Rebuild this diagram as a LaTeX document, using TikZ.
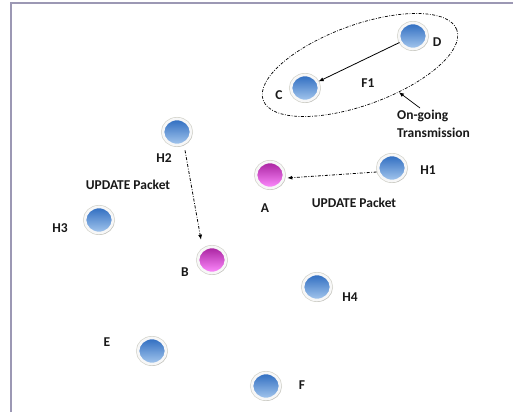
\documentclass[tikz,border=0pt]{standalone}
\usepackage{fontspec}
\setmainfont{Carlito}
\usetikzlibrary{shapes.geometric,arrows.meta,shadows}

\definecolor{frameline}{HTML}{9C98B4}
\definecolor{bluetop}{HTML}{2E6CC0}
\definecolor{bluebot}{HTML}{A6C8EE}
\definecolor{magtop}{HTML}{A8229F}
\definecolor{magbot}{HTML}{FF8CFF}
\definecolor{rimgray}{HTML}{D4D4CC}

\tikzset{
  station/.style={ellipse, inner sep=0pt, minimum width=28pt, minimum height=26pt,
    draw=white!97!black, line width=2.6pt,
    preaction={draw=rimgray, line width=4pt},
    drop shadow={opacity=0.22, shadow xshift=1.3pt, shadow yshift=-1.6pt}},
  host/.style={station, top color=bluetop, bottom color=bluebot},
  relay/.style={station, top color=magtop, bottom color=magbot},
  lbl/.style={font=\bfseries\fontsize{13.5}{15}\selectfont, text=black!90, inner sep=1pt},
  flow/.style={-{Latex[length=5pt,width=4pt]}, line width=0.8pt},
  update/.style={flow, dash pattern=on 3pt off 1.6pt on 0.8pt off 1.6pt}
}

\begin{document}
\begin{tikzpicture}[x=1pt,y=-1pt]
  \useasboundingbox (0,0) rectangle (513,412);
  \fill[white] (0,0) rectangle (513,412);
  % window frame edges
  \draw[frameline, line width=1.8pt] (11,412) -- (11,3) -- (513,3);

  % ongoing flow region
  \node[draw, ellipse, rotate=20, minimum width=206pt, minimum height=80pt,
        line width=0.7pt, dash pattern=on 3pt off 1.5pt on 0.8pt off 1.5pt] (ring) at (360,65) {};

  % stations
  \node[host]  (D)  at (413,36)  {};
  \node[host]  (C)  at (305,88)  {};
  \node[host]  (H2) at (177,132) {};
  \node[host]  (H1) at (392,168) {};
  \node[relay] (A)  at (270,175) {};
  \node[host]  (H3) at (99,220)  {};
  \node[relay] (B)  at (212,260) {};
  \node[host]  (H4) at (317,287) {};
  \node[host]  (E)  at (152,351) {};
  \node[host]  (F)  at (266,386) {};

  % labels
  \node[lbl] (lD)  at (437,42)  {D};
  \node[lbl] (lC)  at (279,95)  {C};
  \node[lbl] (lF1) at (368,83)  {F1};
  \node[lbl] (lH2) at (164,158) {H2};
  \node[lbl] (lB)  at (185,272) {B};
  \node[lbl] (lA)  at (265,208) {A};
  \node[lbl] (lH1) at (428,170) {H1};
  \node[lbl] (lH3) at (60,228)  {H3};
  \node[lbl] (lE)  at (107,342) {E};
  \node[lbl] (lH4) at (350,297) {H4};
  \node[lbl] (lF)  at (302,385) {F};
  \node[lbl] (up1) at (354,203) {UPDATE Packet};
  \node[lbl] (up2) at (128,185) {UPDATE Packet};
  \node[lbl, align=left, anchor=north west, font=\bfseries\fontsize{13.5}{18}\selectfont]
        (ogt) at (396,109) {On-going\\Transmission};

  % connectors
  \draw[flow] (D) -- (C);
  \draw[flow, line width=0.7pt] ([xshift=24pt,yshift=1pt]ogt.north west) -- (ring.-55);
  \draw[update] ([yshift=-4pt]H1.west) -- ([yshift=-3pt,xshift=2pt]A.east);
  \draw[update] ([xshift=8pt,yshift=-4pt]H2.south) -- ([xshift=-11pt,yshift=6pt]B.north);
\end{tikzpicture}
\end{document}
